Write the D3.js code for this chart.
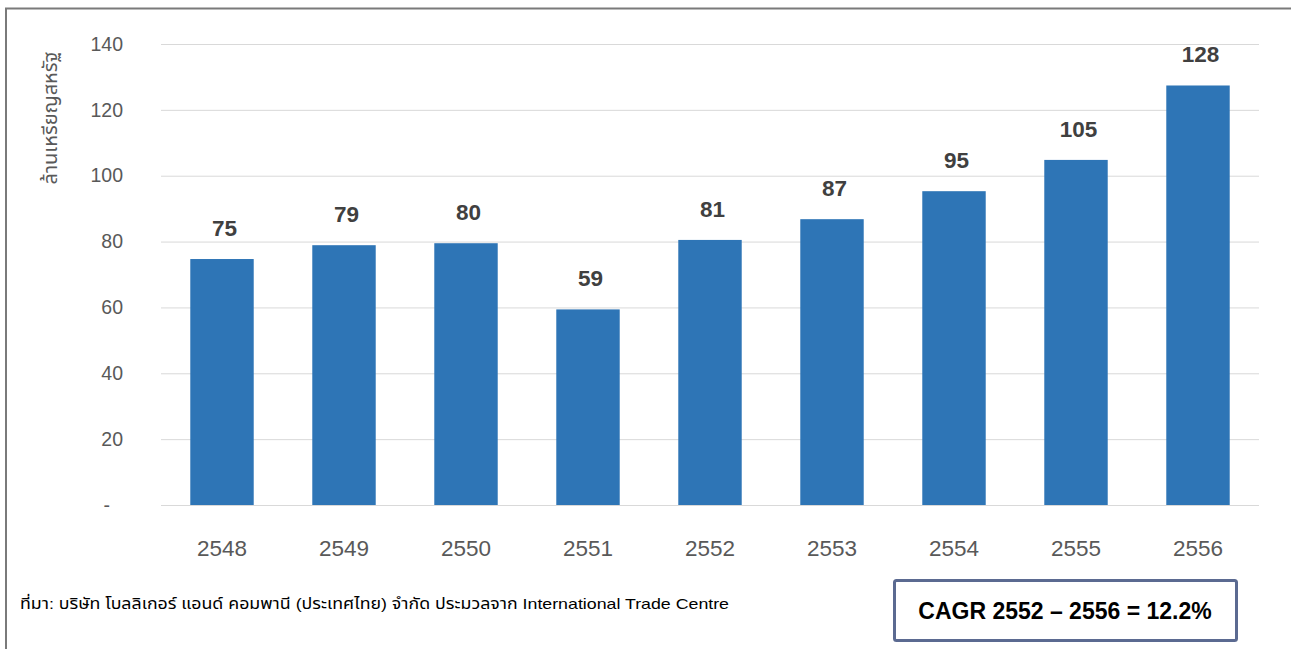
<!DOCTYPE html>
<html>
<head>
<meta charset="utf-8">
<script src="https://cdn.jsdelivr.net/npm/d3@7"></script>
<style>
html,body{margin:0;padding:0;background:#fff;}
svg{display:block;}
text{font-family:"Liberation Sans",Arial,"Noto Sans","Noto Sans Thai",sans-serif;}
</style>
</head>
<body>
<svg id="chart" width="1291" height="649"></svg>
<script>
const categories = ["2548","2549","2550","2551","2552","2553","2554","2555","2556"];
const values = [74.7, 78.9, 79.5, 59.4, 80.5, 86.8, 95.3, 104.8, 127.4];
const valueLabels = ["75","79","80","59","81","87","95","105","128"];
const yTicks = [0,20,40,60,80,100,120,140];
const yTitle = "ล้านเหรียญสหรัฐ";
const sourceNote = "ที่มา: บริษัท โบลลิเกอร์ แอนด์ คอมพานี (ประเทศไทย) จำกัด ประมวลจาก International Trade Centre";
const cagrText = "CAGR 2552 – 2556 = 12.2%";

const svg = d3.select("#chart");
const W = 1291, H = 649;
const plot = {left:161, right:1259, top:44, bottom:505};

// outer frame (top and left edges visible)
svg.append("path")
  .attr("d", `M6,${H} L6,8.5 L${W},8.5`)
  .attr("fill","none").attr("stroke","#7a7a7a").attr("stroke-width",2);

const x = d3.scaleBand().domain(categories).range([plot.left, plot.right]).paddingInner(0.48).paddingOuter(0.24);
const y = d3.scaleLinear().domain([0,140]).range([plot.bottom, plot.top]);

// grid
const yAxis = d3.axisLeft(y).tickValues(yTicks)
  .tickSize(-(plot.right-plot.left))
  .tickFormat(d => d === 0 ? "-" : d);
const gy = svg.append("g").attr("transform",`translate(${plot.left},0)`).call(yAxis);
gy.select(".domain").remove();
gy.selectAll(".tick line").attr("stroke","#d9d9d9").attr("stroke-width",1);
gy.selectAll(".tick text")
  .attr("x",-38).attr("fill","#595959").attr("font-size","19.5px")
  .attr("dx", d => d === 0 ? -13 : 0);

// bars
svg.append("g").selectAll("rect").data(categories).join("rect")
  .attr("x", d => x(d))
  .attr("width", x.bandwidth())
  .attr("y", (d,i) => y(values[i]))
  .attr("height", (d,i) => y(0) - y(values[i]))
  .attr("fill","#2e75b6");

// value labels
svg.append("g").selectAll("text").data(categories).join("text")
  .attr("x", d => x(d) + x.bandwidth()/2 + 2.5)
  .attr("y", (d,i) => y(values[i]) - 23)
  .attr("text-anchor","middle")
  .attr("font-size","22.5px").attr("font-weight","bold").attr("fill","#404040")
  .text((d,i) => valueLabels[i]);

// x axis labels
const xAxis = d3.axisBottom(x).tickSize(0).tickPadding(0);
const gx = svg.append("g").attr("transform",`translate(0,${plot.bottom})`).call(xAxis);
gx.select(".domain").remove();
gx.selectAll(".tick text").attr("y",51).attr("dy",0)
  .attr("fill","#595959").attr("font-size","22.5px");

// y title
svg.append("text")
  .attr("transform","translate(57,118) rotate(-90)")
  .attr("text-anchor","middle")
  .attr("fill","#595959").attr("font-size","19px")
  .attr("textLength",133).attr("lengthAdjust","spacingAndGlyphs")
  .text(yTitle);

// source note
svg.append("text")
  .attr("x",20).attr("y",609)
  .attr("fill","#000").attr("font-size","15px")
  .attr("textLength",709).attr("lengthAdjust","spacingAndGlyphs")
  .text(sourceNote);

// CAGR box
svg.append("rect")
  .attr("x",894.5).attr("y",580.5).attr("width",342).attr("height",60).attr("rx",2)
  .attr("fill","#fff").attr("stroke","#5b6a91").attr("stroke-width",3);
svg.append("text")
  .attr("x",1065).attr("y",619)
  .attr("text-anchor","middle").attr("font-size","23px").attr("font-weight","bold").attr("fill","#000")
  .text(cagrText);
</script>
</body>
</html>
